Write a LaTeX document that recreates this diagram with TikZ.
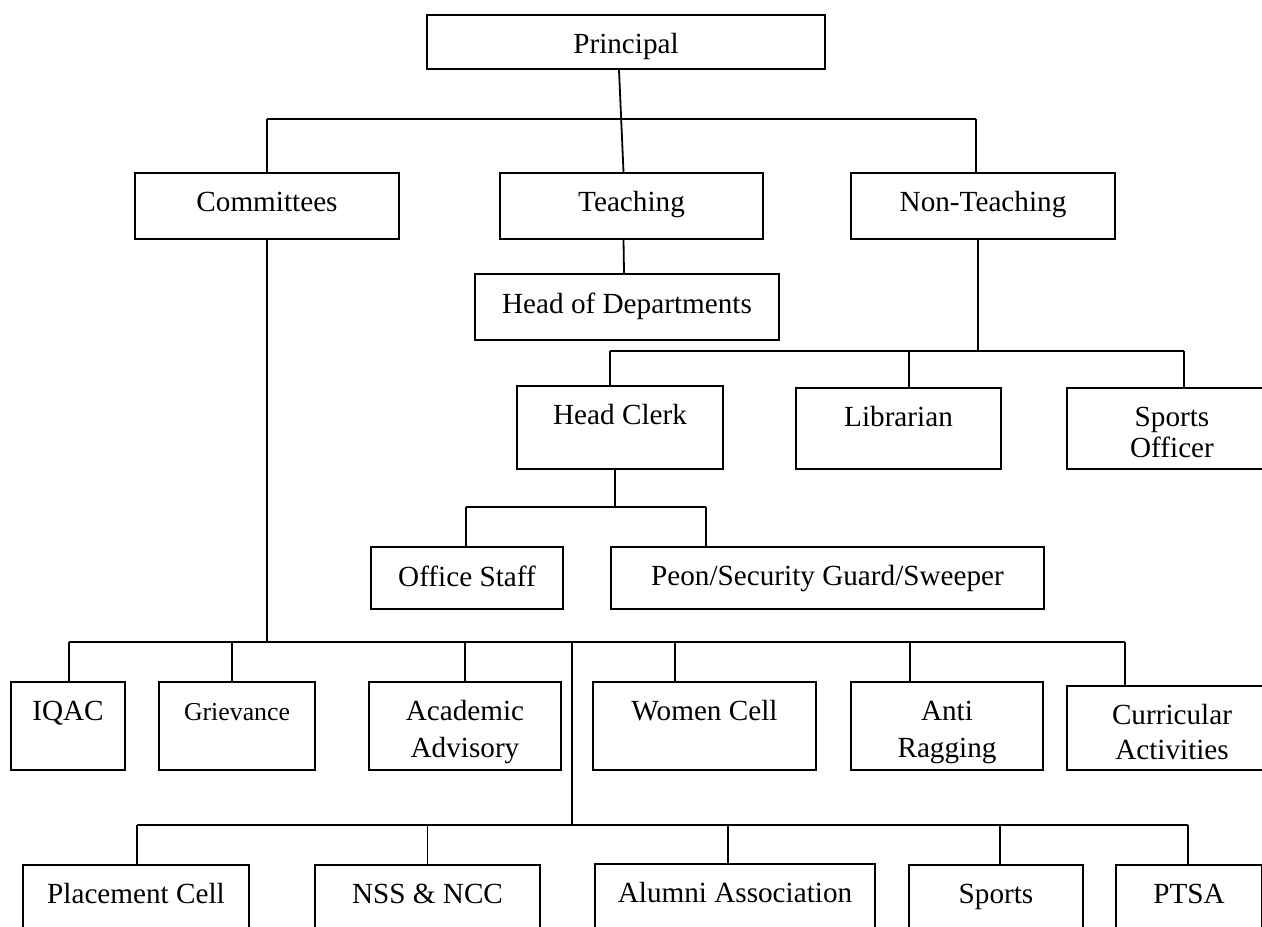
\documentclass[tikz,border=0pt]{standalone}
\usepackage{fontspec}
\setmainfont{Liberation Serif}
\newcommand{\boxtext}[3]{\parbox[t][#2pt][t]{#1pt}{\centering\vspace*{9.3pt}\rule{0pt}{10pt}#3}}
\tikzset{
  box/.style={draw, line width=1pt, inner sep=0pt, anchor=north west},
  bus/.style={line width=1.1pt},
}
\begin{document}
\begin{tikzpicture}[x=1pt, y=-1pt, font=\fontsize{14.6}{18.5}\selectfont]
      \clip (0,0) rectangle (631,463);
      \draw
        (213,7) node[box] (pr){\boxtext{199}{27}{Principal}}
        (67,86) node[box] (cm){\boxtext{132}{33}{Committees}}
        (249.5,86) node[box] (te){\boxtext{131.5}{33}{Teaching}}
        (425,86) node[box] (nt){\boxtext{132}{33}{Non-Teaching}}
        (237,136.5) node[box] (hd){\boxtext{152}{33}{Head of Departments}}
        (258,192.5) node[box] (hc){\boxtext{103}{41.5}{Head Clerk}}
        (397.5,193.5) node[box] (li){\boxtext{102.5}{40.5}{Librarian}}
        (533,193.5) node[box] (so){\boxtext{105}{40.5}{Sports\\[-3pt]Officer}}
        (185,273) node[box] (os){\boxtext{96}{31}{Office Staff}}
        (305,273) node[box] (pe){\boxtext{216.5}{31}{Peon/Security Guard/Sweeper}}
        (5,340.5) node[box] (iq){\boxtext{57}{44}{IQAC}}
        (79,340.5) node[box] (gr){\boxtext{78}{44}{\fontsize{12.9}{15.5}\selectfont Grievance}}
        (184,340.5) node[box] (ac){\boxtext{96}{44}{Academic\\Advisory}}
        (296,340.5) node[box] (wc){\boxtext{111.5}{44}{Women Cell}}
        (425,340.5) node[box] (ar){\boxtext{96}{44}{Anti\\Ragging}}
        (533,342.5) node[box] (cu){\boxtext{105}{42}{Curricular\\[-1pt]Activities}}
        (11,432) node[box] (pc){\boxtext{113}{50}{Placement Cell}}
        (157,432) node[box] (ns){\boxtext{112.5}{50}{NSS \& NCC}}
        (297,431.5) node[box] (aa){\boxtext{140}{50}{Alumni Association}}
        (454,432) node[box] (sp){\boxtext{87}{50}{Sports}}
        (557.5,432) node[box] (pt){\boxtext{73}{50}{PTSA}};
      \coordinate (b1l) at (133.5,59.5);
      \coordinate (b1r) at (488,59.5);
      \coordinate (b2l) at (305,175.5);
      \coordinate (b2r) at (592,175.5);
      \coordinate (b3l) at (233,253.5);
      \coordinate (b3r) at (353,253.5);
      \coordinate (b4l) at (34.5,321);
      \coordinate (b4m) at (286,321);
      \coordinate (b4r) at (562.5,321);
      \coordinate (b5l) at (68.5,412.5);
      \coordinate (b5m) at (286,412.5);
      \coordinate (b5r) at (594,412.5);
      \begin{scope}[bus]
        \draw (b1l) to (b1r);
        \draw (b2l) to (b2r);
        \draw (b3l) to (b3r);
        \draw (b4l) to (b4r);
        \draw (b5l) to (b5r);
      \end{scope}
      \begin{scope}[line width=0.9pt]
        \draw ([xshift=-3.5pt]pr.south) to ([xshift=-4pt]te.north);
        \draw (b1l) to (b1l |- cm.north);
        \draw (b1r) to (b1r |- nt.north);
        \draw ([xshift=-4pt]te.south) to ([xshift=-1.5pt]hd.north);
        \draw ([xshift=-2.5pt]nt.south) to ([xshift=-2.5pt]nt.south |- b2l);
        \draw (b2l) to (b2l |- hc.north);
        \draw ([xshift=5.25pt]li.north |- b2l) to ([xshift=5.25pt]li.north);
        \draw (b2r) to (b2r |- so.north);
        \draw ([xshift=-2.5pt]hc.south) to ([xshift=-2.5pt]hc.south |- b3l);
        \draw (b3l) to (b3l |- os.north);
        \draw (b3r) to (b3r |- pe.north);
        \draw (cm.south) to (cm.south |- b4l);
        \draw (b4l) to (b4l |- iq.north);
        \draw ([xshift=-2.5pt]gr.north |- b4l) to ([xshift=-2.5pt]gr.north);
        \draw (ac.north |- b4l) to (ac.north);
        \draw ([xshift=-14.75pt]wc.north |- b4l) to ([xshift=-14.75pt]wc.north);
        \draw ([xshift=-18.5pt]ar.north |- b4l) to ([xshift=-18.5pt]ar.north);
        \draw (b4r) to (b4r |- cu.north);
        \draw (b4m) to (b5m);
        \draw (b5l) to (b5l |- pc.north);
        \draw (ns.north |- b5l) to (ns.north);
        \draw ([xshift=-3.5pt]aa.north |- b5l) to ([xshift=-3.5pt]aa.north);
        \draw ([xshift=2pt]sp.north |- b5l) to ([xshift=2pt]sp.north);
        \draw (b5r) to (b5r |- pt.north);
      \end{scope}
    \end{tikzpicture}
\end{document}
